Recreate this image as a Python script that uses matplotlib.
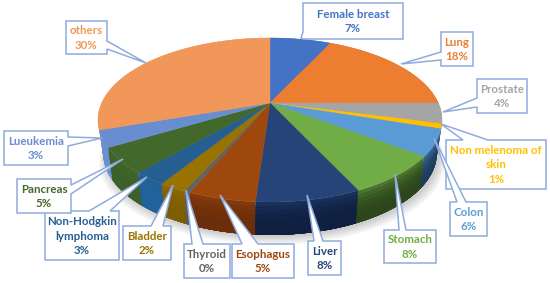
import numpy as np
import matplotlib
matplotlib.use("Agg")
import matplotlib.pyplot as plt
from matplotlib.patches import Polygon

plt.rcParams['font.family'] = ['Lato', 'DejaVu Sans']

# datos de la grafica
sitios = ["Female breast", "Lung", "Prostate", "Non melenoma of\nskin", "Colon", "Stomach", "Liver",
          "Esophagus", "Thyroid", "Bladder", "Non-Hodgkin\nlymphoma", "Pancreas", "Lueukemia", "others"]
etiquetas_pct = [7, 18, 4, 1, 6, 8, 8, 5, 0, 2, 3, 5, 3, 30]
# tamano de cada sector (las etiquetas estan redondeadas)
sectores = [7.0, 18.0, 4.0, 1.0, 5.2, 7.8, 8.1, 5.2, 0.5, 2.1, 2.6, 5.0, 3.3, 30.2]

colores = ["#4472c4", "#ed7d31", "#a5a5a5", "#ffc000", "#5b9bd5", "#70ad47", "#264478",
           "#9e480e", "#636363", "#997300", "#255e91", "#43682b", "#698ed0", "#f1975a"]
colores_lado = ["#2a4a80", "#8a4510", "#555555", "#8a6a00", "#1d3d5c", "#2c451a", "#0e1f3f",
                "#6b2d0a", "#5a5a5a", "#7d5e00", "#22629c", "#3d6028", "#6a90d4", "#f1975a"]

# cajas de etiqueta: x0, y0, x1, y1
cajas = [(303, 3, 403, 39), (441, 32, 473, 66), (477, 79, 527, 113), (446, 140, 546, 189),
         (450, 202, 487, 236), (384, 230, 436, 263), (308, 241, 341, 275), (232, 244, 294, 278),
         (184, 244, 230, 278), (123, 226, 171, 260), (45, 211, 119, 260), (17, 179, 71, 213),
         (4, 131, 68, 165), (66, 21, 107, 54)]
# punta de cada flecha y lado de la caja donde nace
puntas = [(301, 38), (401, 64), (443, 112), (441, 124), (434, 138), (395, 174), (307, 195),
          (220, 195), (186, 190), (173, 185), (147, 177), (123, 159), (102, 138), (146, 63)]
bases = [("l", 32, 39), ("l", 52, 60), ("l", 98, 107), ("t", 463, 488), ("t", 457, 466),
         ("t", 399, 406), ("t", 314, 323), ("t", 242, 258), ("t", 192, 203), ("t", 151, 163),
         ("t", 89, 110), ("r", 185, 194), ("r", 137, 146), ("r", 41, 49)]

CX, CY = 270, 103
K = 0.207
A_X, A_Y = 168.3, 78.5
BORDE = "#8fabdd"


def proyectar(theta, escala=1.0, dy=0.0):
    """Pasa un angulo del circulo a pixeles, con perspectiva."""
    u = np.sin(theta)
    v = np.cos(theta)
    d = 1 + K * v
    return CX + escala * A_X * u / d, CY + dy - A_Y * v / d


def mezclar(c1, c2, t):
    a = np.array(matplotlib.colors.to_rgb(c1))
    b = np.array(matplotlib.colors.to_rgb(c2))
    return a + (b - a) * t


def dibujar_sombra(ax):
    th = np.linspace(0, 2 * np.pi, 200)
    for i in range(10):
        x, y = proyectar(th, 0.97 + i * 0.004, 35 + i * 0.9)
        ax.fill(x + 2, y, color="#000000", alpha=0.02, lw=0, zorder=1)


def dibujar_lados(ax, limites):
    orden = sorted(range(len(sectores)), key=lambda i: -abs((limites[i] + limites[i + 1]) / 2 - np.pi))
    for i in orden:
        th = np.linspace(limites[i], limites[i + 1], 50)
        # cada banda llega hasta abajo, asi no quedan rayas entre bandas
        x1, y1 = proyectar(th[::-1], 0.97, 33)
        n = 8
        for b in range(n):
            t0 = b / n
            x0, y0 = proyectar(th, 1 - 0.03 * t0, 33 * t0)
            c = mezclar(colores_lado[i], colores[i], 0.45 * (1 - t0) ** 3)
            ax.fill(np.r_[x0, x1], np.r_[y0, y1], color=c, lw=0, zorder=2)


def dibujar_tapa(ax, limites):
    for i in range(len(sectores)):
        th = np.linspace(limites[i], limites[i + 1], 80)
        x, y = proyectar(th)
        ax.fill(np.r_[CX, x], np.r_[CY, y], color=colores[i], lw=0.3, ec=colores[i], zorder=3)


def dibujar_caja(ax, i):
    x0, y0, x1, y1 = cajas[i]
    lado, b0, b1 = bases[i]
    tip = puntas[i]
    if lado == "t":
        pts = [(x0, y0), (b0, y0), tip, (b1, y0), (x1, y0), (x1, y1), (x0, y1)]
    elif lado == "r":
        pts = [(x0, y0), (x1, y0), (x1, b0), tip, (x1, b1), (x1, y1), (x0, y1)]
    else:
        pts = [(x0, y0), (x1, y0), (x1, y1), (x0, y1), (x0, b1), tip, (x0, b0)]
    ax.add_patch(Polygon(pts, closed=True, fc="white", ec=BORDE, lw=1.1, zorder=5 + i * 0.01))
    ax.text((x0 + x1) / 2, (y0 + y1) / 2 + 0.5, f"{sitios[i]}\n{etiquetas_pct[i]}%",
            color=colores[i], fontsize=8.3, fontweight="bold", ha="center", va="center",
            linespacing=1.35, zorder=6)


fig = plt.figure(figsize=(5.5, 2.83), dpi=100)
ax = fig.add_axes([0, 0, 1, 1])
ax.set_xlim(0, 550)
ax.set_ylim(283, 0)
ax.axis("off")

acumulado = np.r_[0, np.cumsum(sectores)] / np.sum(sectores)
limites = acumulado * 2 * np.pi

dibujar_sombra(ax)
dibujar_lados(ax, limites)
dibujar_tapa(ax, limites)
for i in range(len(sectores)):
    dibujar_caja(ax, i)

fig.savefig("out.png", dpi=100)
